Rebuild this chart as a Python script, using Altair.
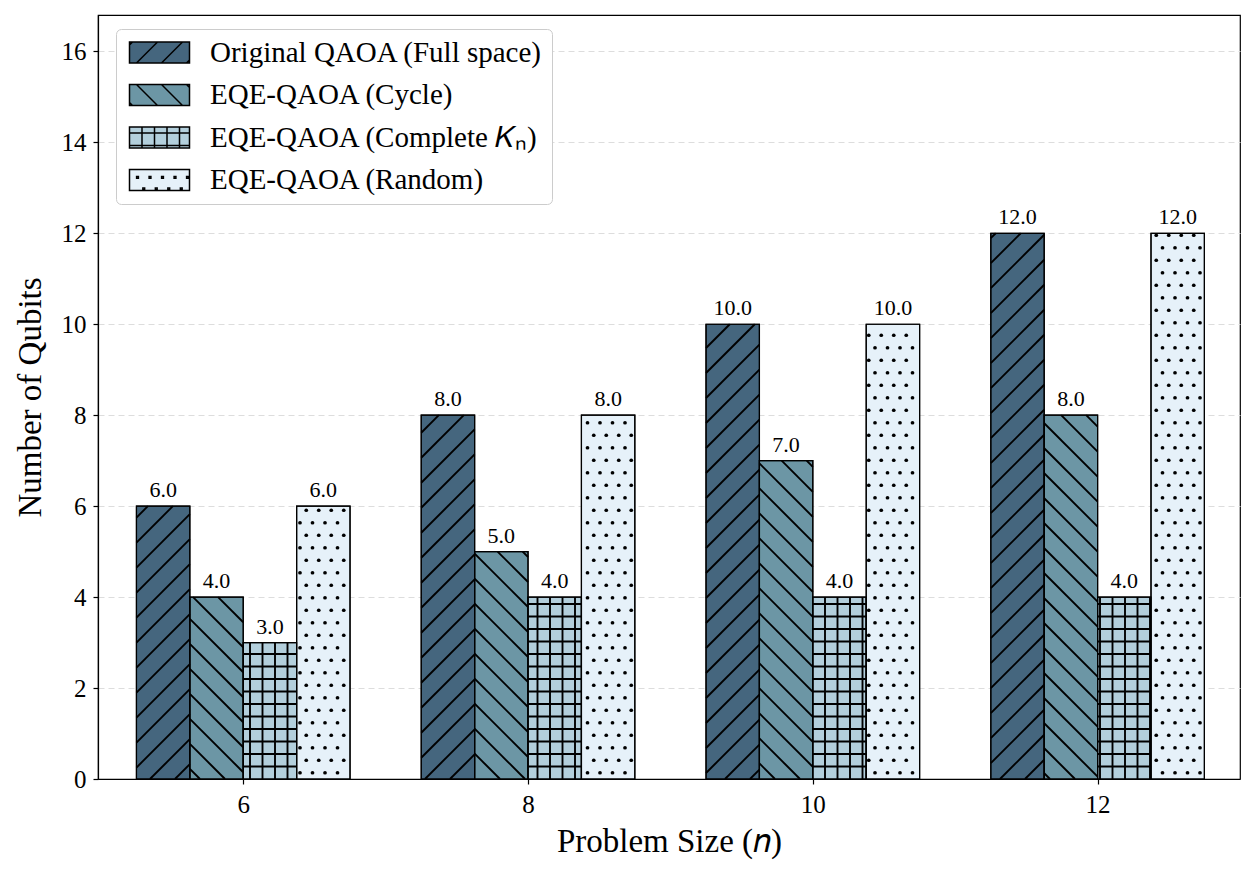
import math
import altair as alt
import pandas as pd

# ---------------- data ----------------
problem_sizes = [6, 8, 10, 12]
series_names = [
    "Original QAOA (Full space)",
    "EQE-QAOA (Cycle)",
    "EQE-QAOA (Complete 𝐾ₙ)",
    "EQE-QAOA (Random)",
]
original_qaoa = [6, 8, 10, 12]
eqe_cycle = [4, 5, 7, 8]
eqe_complete = [3, 4, 4, 4]
eqe_random = [6, 8, 10, 12]
series_values = [original_qaoa, eqe_cycle, eqe_complete, eqe_random]
series_colors = ["#45667e", "#6c96a5", "#b3cfdc", "#e6f1f9"]
hatch_kinds = ["/", "\\", "+", "."]
y_ticks = [0, 2, 4, 6, 8, 10, 12, 14, 16]

# ---------------- layout ----------------
X_DOMAIN = [4.98, 13.0]
Y_DOMAIN = [0, 16.8]
PLOT_W, PLOT_H = 1142, 764
PAD_L, PAD_T, PAD_R, PAD_B = 98, 15, 15, 100
BAR_W = 0.375
FONT = "Liberation Serif"

rows = []
for si, (name, vals) in enumerate(zip(series_names, series_values)):
    for n, v in zip(problem_sizes, vals):
        left = n + (si - 2) * BAR_W
        rows.append(dict(series=name, order=si, n=n, x0=left, x1=left + BAR_W,
                         xc=left + BAR_W / 2, value=v, base=0, label=f"{v:.1f}"))
bars = pd.DataFrame(rows)

# ---------------- hatch geometry (derived from bars through the scales) ----------------
sx = PLOT_W / (X_DOMAIN[1] - X_DOMAIN[0])
sy = PLOT_H / (Y_DOMAIN[1] - Y_DOMAIN[0])
BASE = PAD_B  # figure-anchored pattern origin (y up)


def px_x(x):
    return PAD_L + (x - X_DOMAIN[0]) * sx


def dx(p):
    return X_DOMAIN[0] + (p - PAD_L) / sx


def dy(p):
    return (p - BASE) / sy


SP = 25.0
FINE = 12.5
lines, dots = [], []
for r in bars.itertuples():
    X0, X1 = px_x(r.x0), px_x(r.x1)
    Y0, Y1 = BASE, BASE + r.value * sy
    kind = hatch_kinds[r.order]
    if kind == "/":
        for k in range(math.floor((Y0 - X1) / SP) - 1, math.ceil((Y1 - X0) / SP) + 2):
            c = k * SP
            xa, xb = max(X0, Y0 - c), min(X1, Y1 - c)
            if xb - xa > 0.5:
                lines.append((xa, xa + c, xb, xb + c))
    elif kind == "\\":
        for k in range(math.floor((X0 + Y0) / SP) - 1, math.ceil((X1 + Y1) / SP) + 2):
            c = k * SP
            xa, xb = max(X0, c - Y1), min(X1, c - Y0)
            if xb - xa > 0.5:
                lines.append((xa, c - xa, xb, c - xb))
    elif kind == "+":
        for k in range(math.ceil(X0 / FINE), math.floor(X1 / FINE) + 1):
            x = k * FINE
            if X0 + 1 < x < X1 - 1:
                lines.append((x, Y0, x, Y1))
        for k in range(math.ceil(Y0 / FINE), math.floor(Y1 / FINE) + 1):
            y = k * FINE
            if Y0 + 1 < y < Y1 - 1:
                lines.append((X0, y, X1, y))
    else:
        for k in range(math.ceil(Y0 / FINE), math.floor(Y1 / FINE) + 1):
            y = k * FINE + 6.25
            if not (Y0 + 1 < y < Y1 - 1):
                continue
            off = 6.25 if k % 2 else 0.0
            for m in range(math.floor(X0 / FINE) - 1, math.ceil(X1 / FINE) + 1):
                x = m * FINE + off
                if X0 + 1 < x < X1 - 1:
                    dots.append((x, y))

hatch_df = pd.DataFrame([dict(x=dx(a), y=dy(b), x2=dx(c), y2=dy(d)) for a, b, c, d in lines])
dots_df = pd.DataFrame([dict(x=dx(a), y=dy(b)) for a, b in dots])

# ---------------- legend symbol paths (hatched patches) ----------------
U = 10.5  # sqrt(symbolSize)/2
HW, HH = 30.0, 10.5


def f(v):
    return f"{v / U:.4f}"


def patch_path(kind):
    p = f"M{f(-HW)},{f(-HH)}H{f(HW)}V{f(HH)}H{f(-HW)}Z"
    if kind in ("/", "\\"):
        for c in (-37.5, -12.5, 12.5, 37.5):
            xa, xb = max(-HW, c - HH), min(HW, c + HH)
            if xb - xa <= 0.5:
                continue
            if kind == "/":
                p += f"M{f(xa)},{f(c - xa)}L{f(xb)},{f(c - xb)}"
            else:
                p += f"M{f(xa)},{f(xa - c)}L{f(xb)},{f(xb - c)}"
    elif kind == "+":
        for x in (-17.5, -5.0, 7.5, 20.0):
            p += f"M{f(x)},{f(-HH)}L{f(x)},{f(HH)}"
        for y in (-4.5, 8.0):
            p += f"M{f(-HW)},{f(y)}L{f(HW)},{f(y)}"
    else:
        for x in (-22.0, -9.5, 3.0, 15.5, 28.0):
            p += f"M{f(x - 0.9)},{f(-3.5)}h{f(1.8)}v{f(1.8)}h{f(-1.8)}Z"
        for x in (-15.75, -3.25, 9.25, 21.75):
            p += f"M{f(x - 0.9)},{f(8.0)}h{f(1.8)}v{f(1.8)}h{f(-1.8)}Z"
    return p


shape_paths = [patch_path(k) for k in hatch_kinds]

# ---------------- encodings ----------------
x_scale = alt.Scale(domain=X_DOMAIN, nice=False, zero=False)
y_scale = alt.Scale(domain=Y_DOMAIN, nice=False, zero=True)
x_axis = alt.Axis(values=problem_sizes, format="d", grid=False, title="Problem Size (𝑛)",
                  labelFont=FONT, titleFont=FONT)
y_axis = alt.Axis(values=y_ticks, format="d", grid=True, title="Number of Qubits",
                  labelFont=FONT, titleFont=FONT)

legend = alt.Legend(title=None, orient="none", legendX=18, legendY=14)
color_enc = alt.Color("series:N", scale=alt.Scale(domain=series_names, range=series_colors),
                      legend=legend)


def X(field):
    return alt.X(field, scale=x_scale, axis=x_axis)


def Y(field):
    return alt.Y(field, scale=y_scale, axis=y_axis)


bar_fill = alt.Chart(bars).mark_bar(stroke="black", strokeWidth=1.2).encode(
    x=X("x0:Q"), x2="x1:Q", y=Y("value:Q"), y2="base:Q", color=color_enc
)

hatch = alt.Chart(hatch_df).mark_rule(color="black", strokeWidth=1.9).encode(
    x=X("x:Q"), x2="x2:Q", y=Y("y:Q"), y2="y2:Q"
)

dot_layer = alt.Chart(dots_df).mark_circle(color="black", size=14, opacity=1).encode(
    x=X("x:Q"), y=Y("y:Q")
)

outline = alt.Chart(bars).mark_bar(fillOpacity=0, stroke="black", strokeWidth=1.2).encode(
    x=X("x0:Q"), x2="x1:Q", y=Y("value:Q"), y2="base:Q"
)

legend_keys = alt.Chart(bars).mark_point(filled=True, size=0, opacity=1).encode(
    x=X("xc:Q"), y=Y("value:Q"), color=color_enc,
    shape=alt.Shape("series:N", scale=alt.Scale(domain=series_names, range=shape_paths),
                    legend=legend),
)

labels = alt.Chart(bars).mark_text(font=FONT, fontSize=22, baseline="alphabetic", dy=-9,
                                   color="black").encode(
    x=X("xc:Q"), y=Y("value:Q"), text="label:N"
)

chart = (
    alt.layer(bar_fill, hatch, dot_layer, outline, legend_keys, labels)
    .properties(
        width=PLOT_W, height=PLOT_H,
        autosize=alt.AutoSizeParams(type="none"),
        padding={"left": PAD_L, "top": PAD_T, "right": PAD_R, "bottom": PAD_B},
        background="white",
    )
    .configure_view(stroke="black", strokeWidth=1.2)
    .configure_axis(
        labelFont=FONT, labelFontSize=25, labelColor="black",
        titleFont=FONT, titleFontSize=33, titleFontWeight="normal", titleColor="black",
        domainColor="black", domainWidth=1.2, tickColor="black", tickSize=5, tickWidth=1.2,
        gridColor="#dddddd", gridDash=[6, 4], gridWidth=1,
    )
    .configure_axisX(labelPadding=8, titlePadding=8)
    .configure_axisY(labelPadding=7, titlePadding=14)
    .configure_legend(
        labelFont=FONT, labelFontSize=29, labelColor="black",
        symbolSize=441, symbolStrokeColor="black", symbolStrokeWidth=1.5,
        symbolOffset=20, labelOffset=36, rowPadding=12.5, padding=9,
        fillColor="white", strokeColor="#cccccc", cornerRadius=5, labelLimit=600,
    )
)

chart.save("out.html", embed_options={"renderer": "svg", "actions": False})
